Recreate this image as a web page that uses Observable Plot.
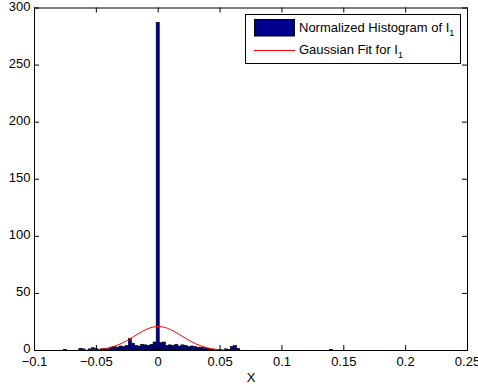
<!DOCTYPE html>
<html>
<head>
<meta charset="utf-8">
<script src="https://cdn.jsdelivr.net/npm/d3@7"></script>
<script src="https://cdn.jsdelivr.net/npm/@observablehq/plot@0.6"></script>
<style>
  html, body { margin: 0; padding: 0; background: #fff; }
  #chart { position: relative; width: 478px; height: 385px; }
  svg { font-family: "Liberation Sans", Arial, Helvetica, sans-serif; }
</style>
</head>
<body>
<div id="chart"></div>
<script>
// Histogram bin centers (bin width 0.0025) and normalized heights
const binWidth = 0.0025;
const binCenters = [
  -0.075, -0.0625, -0.06, -0.055, -0.0525, -0.05, -0.0475, -0.045, -0.0425, -0.04,
  -0.0375, -0.035, -0.0325, -0.03, -0.0275, -0.025, -0.0225, -0.02, -0.0175, -0.015,
  -0.0125, -0.01, -0.0075, -0.005, -0.0025, 0, 0.0025, 0.005, 0.0075, 0.01,
  0.0125, 0.015, 0.0175, 0.02, 0.0225, 0.025, 0.0275, 0.03, 0.0325, 0.035,
  0.0375, 0.04, 0.0425, 0.045, 0.05, 0.055, 0.0575, 0.06, 0.0625, 0.065, 0.14
];
const binHeights = [
  0.5, 1.5, 1, 1, 2, 1.5, 0.5, 1, 1.5, 1,
  2.5, 3, 2.5, 3.5, 3, 4, 10, 6, 4, 3.5,
  5, 4.5, 4, 5, 7, 287, 6.5, 7, 4, 4.5,
  4, 5, 3.5, 4.5, 4, 3, 3.5, 3, 2.5, 2.5,
  2, 1.5, 1, 0.5, 0.5, 1, 0.5, 3, 4, 1.5, 0.4
];

// Gaussian fit curve
const fitX = [
  -0.1, -0.09, -0.08, -0.075, -0.07, -0.065, -0.06, -0.055, -0.05, -0.045, -0.04, -0.035,
  -0.03, -0.025, -0.02, -0.015, -0.01, -0.005, 0, 0.005, 0.01, 0.015, 0.02,
  0.025, 0.03, 0.035, 0.04, 0.045, 0.05, 0.055, 0.06, 0.065, 0.07, 0.075,
  0.08, 0.09, 0.1, 0.15, 0.2
];
const fitY = [
  0, 0, 0, 0.01, 0.02, 0.06, 0.14, 0.32, 0.66, 1.27, 2.29, 3.85,
  6.0, 8.8, 12.1, 15.4, 18.3, 20.3, 21, 20.3, 18.3, 15.4, 12.1,
  8.8, 6.0, 3.85, 2.29, 1.27, 0.66, 0.32, 0.14, 0.06, 0.02, 0.01,
  0, 0, 0, 0, 0
];

const xTicks = [-0.1, -0.05, 0, 0.05, 0.1, 0.15, 0.2, 0.25];
const xTickLabels = ["\u22120.1", "\u22120.05", "0", "0.05", "0.1", "0.15", "0.2", "0.25"];
const yTicks = [0, 50, 100, 150, 200, 250, 300];
const yTickLabels = ["0", "50", "100", "150", "200", "250", "300"];
const legendLabels = ["Normalized Histogram of I", "Gaussian Fit for I"];

const bins = binCenters.map((c, i) => ({x1: c - binWidth / 2, x2: c + binWidth / 2, y: binHeights[i]}));
const fit = fitX.map((x, i) => ({x, y: fitY[i]}));

const W = 478, H = 385;
const mL = 34, mR = 11, mT = 7.5, mB = 35;
const innerW = W - mL - mR, innerH = H - mT - mB;
const tick = 5;
const FONT = '"Liberation Sans", Arial, Helvetica, sans-serif';

const plot = Plot.plot({
  width: W, height: H,
  marginLeft: mL, marginRight: mR, marginTop: mT, marginBottom: mB,
  style: {fontFamily: FONT, fontSize: "13px", color: "#000", background: "#fff"},
  x: {domain: [-0.1, 0.25], ticks: xTicks},
  y: {domain: [0, 300], ticks: yTicks},
  marks: [
    Plot.rectY(bins, {x1: "x1", x2: "x2", y: "y", fill: "#00008c", stroke: "#000", strokeWidth: 0.6}),
    Plot.line(fit, {x: "x", y: "y", stroke: "#ff0000", strokeWidth: 1, curve: "monotone-x"}),
    Plot.tickX(xTicks, {x: d => d, insetTop: innerH - tick, stroke: "#000"}),
    Plot.tickX(xTicks, {x: d => d, insetBottom: innerH - tick, stroke: "#000"}),
    Plot.tickY(yTicks, {y: d => d, insetRight: innerW - tick, stroke: "#000"}),
    Plot.tickY(yTicks, {y: d => d, insetLeft: innerW - tick, stroke: "#000"}),
    Plot.axisX(xTicks, {tickSize: 0, tickPadding: 6, fontSize: 13,
      tickFormat: d => xTickLabels[xTicks.indexOf(d)],
      label: "X", labelAnchor: "center", labelOffset: 31, labelArrow: "none"}),
    Plot.axisY(yTicks, {tickSize: 0, tickPadding: 4, fontSize: 13, dy: -1.5,
      tickFormat: d => yTickLabels[yTicks.indexOf(d)], label: null}),
    Plot.frame({stroke: "#000", strokeWidth: 1})
  ]
});
document.getElementById("chart").appendChild(plot);

// Legend
const svg = d3.select(plot);
const lg = svg.append("g").attr("font-family", FONT).attr("font-size", 13).attr("text-anchor", "start");
lg.append("rect").attr("x", 245.5).attr("y", 14.5).attr("width", 215).attr("height", 49)
  .attr("fill", "#fff").attr("stroke", "#000").attr("stroke-width", 1);
lg.append("rect").attr("x", 254.5).attr("y", 19.5).attr("width", 40).attr("height", 16.5)
  .attr("fill", "#00008c").attr("stroke", "#000").attr("stroke-width", 1);
lg.append("line").attr("x1", 254).attr("x2", 295).attr("y1", 50.5).attr("y2", 50.5)
  .attr("stroke", "#ff0000").attr("stroke-width", 1);
const t1 = lg.append("text").attr("x", 299).attr("y", 32).attr("text-anchor", "start");
t1.append("tspan").text(legendLabels[0]);
t1.append("tspan").attr("dy", 4).attr("font-size", 9).text("1");
const t2 = lg.append("text").attr("x", 299).attr("y", 54).attr("text-anchor", "start");
t2.append("tspan").text(legendLabels[1]);
t2.append("tspan").attr("dy", 4).attr("font-size", 9).text("1");
</script>
</body>
</html>
